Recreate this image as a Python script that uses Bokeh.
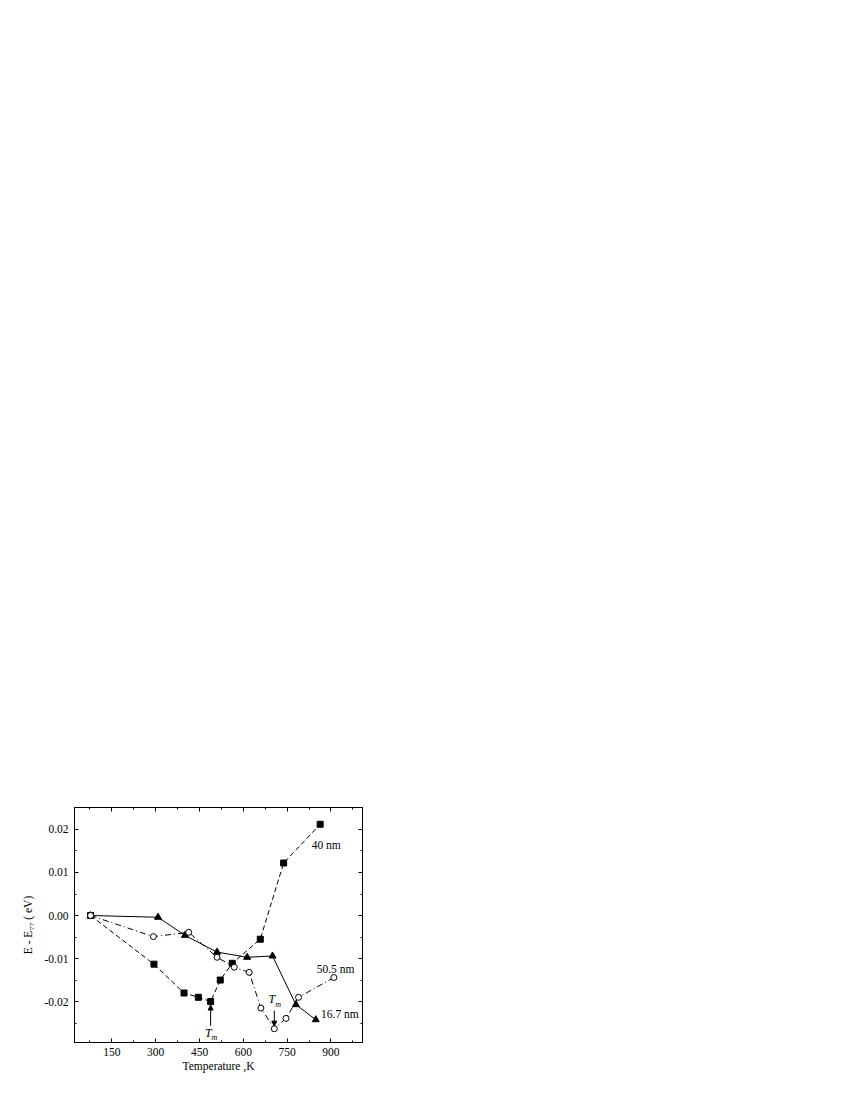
from bokeh.plotting import figure
from bokeh.models import (LinearAxis, SingleIntervalTicker, PrintfTickFormatter,
                          Range1d, Label, Arrow, NormalHead)
from bokeh.embed import file_html
from bokeh.resources import INLINE

# ---- data (Temperature in K, E - E77 in eV) ----
sq_x = [77, 294, 397, 446, 488, 521, 562, 658, 738, 863]          # 40 nm
sq_y = [0.0, -0.0113, -0.0180, -0.0190, -0.0200, -0.0150, -0.0111, -0.0055, 0.0122, 0.0212]

ci_x = [77, 292, 413, 510, 569, 620, 660, 706, 746, 789, 910]     # 50.5 nm
ci_y = [0.0, -0.0049, -0.0039, -0.0097, -0.0120, -0.0132, -0.0215, -0.0263, -0.0239, -0.0190, -0.0144]

tr_x = [77, 308, 400, 510, 613, 700, 780, 848]                    # 16.7 nm
tr_y = [0.0, -0.0004, -0.0046, -0.0085, -0.0097, -0.0094, -0.0207, -0.0242]

x_range = (22, 1008)
y_range = (-0.0295, 0.0251)

FONT = "Liberation Serif"

p = figure(width=372, height=1087, output_backend="svg", toolbar_location=None,
           x_range=Range1d(*x_range), y_range=Range1d(*y_range),
           min_border_left=74, min_border_top=807, min_border_right=10,
           min_border_bottom=45, frame_width=288, frame_height=235)
p.xgrid.visible = False
p.ygrid.visible = False
p.outline_line_color = "black"
p.outline_line_width = 1
p.background_fill_color = "white"
p.border_fill_color = "white"

def style_axis(ax, ticker, labels=True):
    ax.ticker = ticker
    ax.major_tick_in = 4
    ax.major_tick_out = 0
    ax.minor_tick_in = 2
    ax.minor_tick_out = 0
    ax.axis_line_color = "black"
    ax.major_tick_line_color = "black"
    ax.minor_tick_line_color = "black"
    ax.major_label_text_font = FONT
    ax.major_label_text_font_size = "11.5px"
    ax.major_label_text_color = "black"
    ax.axis_label_text_font = FONT
    ax.axis_label_text_font_size = "11.5px"
    ax.axis_label_text_font_style = "normal"
    ax.axis_label_text_color = "black"
    if not labels:
        ax.major_label_text_font_size = "0px"
        ax.major_label_text_color = None

xt = SingleIntervalTicker(interval=150, num_minor_ticks=2)
yt = SingleIntervalTicker(interval=0.01, num_minor_ticks=2)

style_axis(p.xaxis[0], xt)
p.xaxis[0].axis_label = "Temperature ,K"
p.xaxis[0].major_label_standoff = 5
p.xaxis[0].axis_label_standoff = 1

style_axis(p.yaxis[0], yt)
p.yaxis[0].formatter = PrintfTickFormatter(format="%.2f")
p.yaxis[0].axis_label = "E - E\u2087\u2087 ( eV)"
p.yaxis[0].major_label_standoff = 6
p.yaxis[0].axis_label_standoff = 8

top = LinearAxis()
style_axis(top, SingleIntervalTicker(interval=150, num_minor_ticks=2), labels=False)
p.add_layout(top, "above")
right = LinearAxis()
style_axis(right, SingleIntervalTicker(interval=0.01, num_minor_ticks=2), labels=False)
p.add_layout(right, "right")

# ---- series ----
p.line(sq_x, sq_y, line_color="black", line_width=1, line_dash="5 3")
p.line(ci_x, ci_y, line_color="black", line_width=1, line_dash="6 3 1 3")
p.line(tr_x, tr_y, line_color="black", line_width=1)

p.scatter(sq_x, sq_y, marker="square", size=6, fill_color="black", line_color="black")
p.scatter(tr_x, tr_y, marker="triangle", size=7, fill_color="black", line_color="black")
p.scatter(ci_x, ci_y, marker="circle", size=6, fill_color="white", line_color="black", line_width=1)

# ---- series labels ----
for txt, x, y in [("40 nm", 834, 0.0163), ("50.5 nm", 851, -0.0124), ("16.7 nm", 866, -0.0229)]:
    p.add_layout(Label(x=x, y=y, text=txt, text_font=FONT, text_font_size="11.5px",
                       text_baseline="middle", text_align="left", text_color="black"))

# ---- Tm markers ----
tm1_x = sq_x[4]
tm2_x = ci_x[7]
p.add_layout(Arrow(x_start=tm1_x, y_start=-0.0256, x_end=tm1_x, y_end=sq_y[4] - 0.0008,
                   line_color="black", line_width=1,
                   end=NormalHead(size=5, fill_color="black", line_color="black")))
p.add_layout(Arrow(x_start=tm2_x, y_start=-0.0221, x_end=tm2_x, y_end=ci_y[7] + 0.0006,
                   line_color="black", line_width=1,
                   end=NormalHead(size=5, fill_color="black", line_color="black")))

for tx, ty in [(tm1_x, -0.0272), (tm2_x, -0.0195)]:
    p.add_layout(Label(x=tx, y=ty, text="T", text_font=FONT, text_font_size="12px",
                       text_font_style="italic", text_align="right", text_baseline="middle",
                       x_offset=1, text_color="black"))
    p.add_layout(Label(x=tx, y=ty, text="m", text_font=FONT, text_font_size="8px",
                       text_font_style="italic", text_align="left", text_baseline="middle",
                       x_offset=1, y_offset=-5, text_color="black"))

open("out.html", "w").write(file_html(p, INLINE))
